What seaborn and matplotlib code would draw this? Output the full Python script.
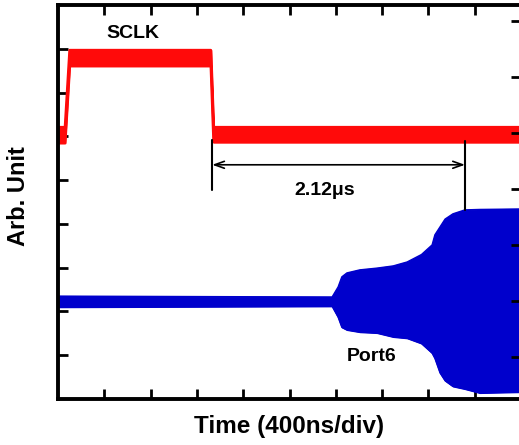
import numpy as np
import pandas as pd
import matplotlib
matplotlib.use("Agg")
import matplotlib.pyplot as plt
import seaborn as sns

# ---- data (time in divisions of 400 ns, amplitude in arbitrary units) ----
sclk_t     = [0.00, 0.15, 0.25, 3.30, 3.36, 9.96]
sclk_upper = [6.21, 6.21, 7.97, 7.97, 6.21, 6.21]
sclk_lower = [5.85, 5.85, 7.61, 7.61, 5.87, 5.87]

port_t     = [0.00, 5.92, 6.05, 6.13, 6.24, 6.52, 6.89, 7.24, 7.54, 7.85,
              8.08, 8.14, 8.25, 8.36, 8.53, 8.79, 9.11, 9.96]
port_upper = [2.35, 2.33, 2.56, 2.79, 2.88, 2.95, 2.99, 3.04, 3.13, 3.30,
              3.52, 3.75, 3.93, 4.11, 4.23, 4.32, 4.33, 4.34]
port_lower = [2.10, 2.12, 1.87, 1.64, 1.58, 1.53, 1.51, 1.42, 1.39, 1.27,
              1.05, 0.93, 0.60, 0.42, 0.29, 0.23, 0.14, 0.16]

delay_start, delay_end = 3.33, 8.79
delay_label = "2.12μs"

sns.set_style("ticks", {"axes.edgecolor": "black", "text.color": "black",
                        "xtick.color": "black", "ytick.color": "black",
                        "axes.labelcolor": "black"})
plt.rcParams['font.family'] = ['Liberation Sans', 'DejaVu Sans']
plt.rcParams['font.weight'] = 'bold'

fig = plt.figure(figsize=(5.19, 4.45), dpi=100)
ax = fig.add_axes([58/519, 46/445, 463/519, 394/445])

RED = "#ff0a0a"
BLUE = "#0000cc"

sclk = pd.DataFrame({"t": sclk_t, "up": sclk_upper, "lo": sclk_lower})
port = pd.DataFrame({"t": port_t, "up": port_upper, "lo": port_lower})

ax.fill_between(sclk["t"], sclk["lo"], sclk["up"], color=RED, lw=1.5, edgecolor=RED)
sns.lineplot(data=sclk, x="t", y="up", ax=ax, color=RED, lw=1.8, estimator=None)
sns.lineplot(data=sclk, x="t", y="lo", ax=ax, color=RED, lw=1.8, estimator=None)

ax.fill_between(port["t"], port["lo"], port["up"], color=BLUE, lw=1.0, edgecolor=BLUE)
sns.lineplot(data=port, x="t", y="up", ax=ax, color=BLUE, lw=1.0, estimator=None)
sns.lineplot(data=port, x="t", y="lo", ax=ax, color=BLUE, lw=1.0, estimator=None)

ax.set_xlim(0, 10)
ax.set_ylim(0, 9)
ax.set_xticks(range(1, 10))
ax.set_yticks(range(1, 9))
ax.tick_params(axis="both", direction="in", length=7, width=2, color="black",
               labelbottom=False, labelleft=False, top=True, bottom=True, left=True, right=False)
for s in ["left", "top", "bottom"]:
    ax.spines[s].set_linewidth(2.8)
    ax.spines[s].set_color("black")
ax.spines["right"].set_visible(False)

ax2 = ax.twinx()
ax2.set_ylim(0.25, 0.25 + 394/56)
ax2.set_yticks(range(1, 8))
ax2.tick_params(axis="y", direction="in", length=7, width=2, color="black", labelright=False)
for s in ["left", "top", "bottom", "right"]:
    ax2.spines[s].set_visible(False)

ax.set_xlabel("Time (400ns/div)", fontsize=17.5, fontweight="bold", color="black")
ax.set_ylabel("Arb. Unit", fontsize=17, fontweight="bold", color="black")
ax.xaxis.set_label_coords((289 - 58) / 463, -(427 - 399) / 394)
ax.yaxis.set_label_coords(-(58 - 19) / 463, (399 - 196) / 394)
ax.xaxis.label.set_va("center")
ax.yaxis.label.set_va("center")

# delay markers
ax.plot([delay_start, delay_start], [4.77, 5.92], color="black", lw=1.5)
ax.plot([delay_end, delay_end], [4.32, 5.90], color="black", lw=1.5)
ax.annotate("", xy=(delay_start, 5.35), xytext=(delay_end, 5.35),
            arrowprops=dict(arrowstyle="<->,head_length=0.7,head_width=0.25", color="black", lw=1.2,
                            shrinkA=0, shrinkB=0))
ax.text((delay_start + delay_end) / 2 - 0.3, 4.77, delay_label, fontsize=14, fontweight="bold",
        ha="center", va="center", color="black")
ax.text(1.62, 8.36, "SCLK", fontsize=14, fontweight="bold", ha="center", va="center", color="black")
ax.text(6.78, 0.96, "Port6", fontsize=14, fontweight="bold", ha="center", va="center", color="black")

fig.savefig("out.png", dpi=100)
